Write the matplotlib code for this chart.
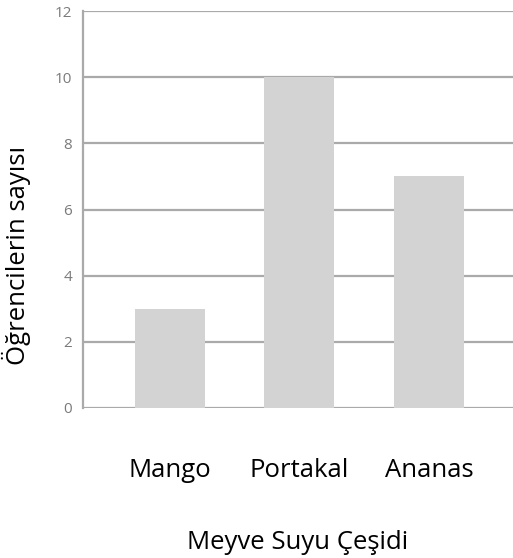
import matplotlib.pyplot as plt

categories = ["Mango", "Portakal", "Ananas"]
values = [3, 10, 7]
y_ticks = [0, 2, 4, 6, 8, 10, 12]

plt.rcParams["font.family"] = ["Open Sans", "DejaVu Sans"]

fig = plt.figure(figsize=(5.13, 5.58), dpi=100)
ax = fig.add_axes([0.162, 0.269, 0.838, 0.711])

ax.bar(range(len(categories)), values, width=0.54, color="#d3d3d3", zorder=2)

ax.set_ylim(0, 12)
ax.set_xlim(-0.67, 2.65)
ax.set_yticks(y_ticks)
ax.set_yticklabels([str(t) for t in y_ticks], color="#7a7a7a", fontsize=11)
ax.yaxis.grid(True, color="#aaaaaa", linewidth=1.6, zorder=1)

ax.set_xticks(range(len(categories)))
ax.set_xticklabels(categories, fontsize=18.5)
ax.tick_params(axis="x", length=0, pad=36)
ax.tick_params(axis="y", length=0, pad=8)

for s in ["top", "right", "bottom"]:
    ax.spines[s].set_visible(False)
ax.spines["left"].set_color("#aaaaaa")
ax.spines["left"].set_linewidth(1.6)

ax.set_xlabel("Meyve Suyu Çeşidi", fontsize=18.5, labelpad=34)
ax.set_ylabel("Öğrencilerin sayısı", fontsize=18.5)
ax.yaxis.set_label_coords(-0.121, 0.385)

fig.savefig("out.png", dpi=100)
